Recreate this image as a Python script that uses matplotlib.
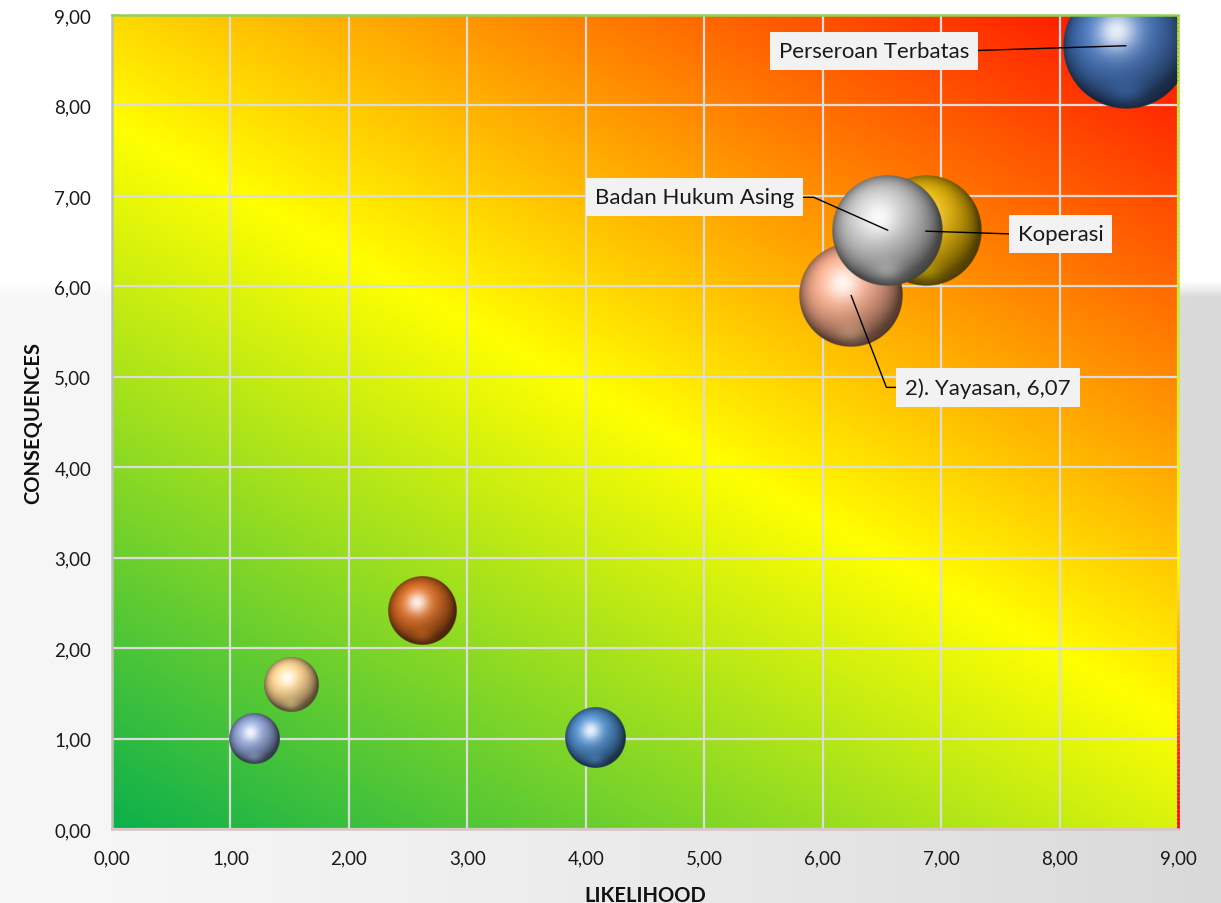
import numpy as np
import matplotlib
matplotlib.use('Agg')
import matplotlib.pyplot as plt
from matplotlib.collections import LineCollection
from matplotlib.colors import to_rgb, LinearSegmentedColormap

# ---------------- data ----------------
labels = ["Perseroan Terbatas", "2). Yayasan, 6,07", "Koperasi", "Badan Hukum Asing", "", "", "", ""]
likelihood = [8.56, 6.24, 6.87, 6.55, 2.62, 1.51, 1.20, 4.08]
consequences = [8.66, 5.90, 6.61, 6.62, 2.41, 1.59, 1.00, 1.01]
bubble_size = [8.9, 6.07, 6.8, 6.9, 2.6, 1.64, 1.45, 2.08]
bubble_colors = ['#416fb5', '#f4a888', '#e6b406', '#c4c4c4', '#d2661e', '#f9d08c', '#8fa2d4', '#4a89c6']

tick_values = [0, 1, 2, 3, 4, 5, 6, 7, 8, 9]
tick_labels = ["0,00", "1,00", "2,00", "3,00", "4,00", "5,00", "6,00", "7,00", "8,00", "9,00"]

x_title = "LIKELIHOOD"
y_title = "CONSEQUENCES"

# label placement (offset in pixels from bubble centre, y up) - style only
label_dx = [-252, 137, 135, -193]
label_dy = [-5, -92, -3, 33]
label_relpos = [(1, 0.5), (0, 0.5), (0, 0.5), (1, 0.5)]
label_conn = ["arc3,rad=0", "angle,angleA=0,angleB=-69,rad=0", "arc3,rad=0", "angle,angleA=0,angleB=156,rad=0"]

plt.rcParams['font.family'] = ['Lato', 'DejaVu Sans']

W, H = 1221, 904
fig = plt.figure(figsize=(W / 100, H / 100), dpi=100)

# ---------------- figure background ----------------
bg_ax = fig.add_axes([0, 0, 1, 1], zorder=-10)
bg_ax.set_axis_off()
yy, xx = np.mgrid[0:H, 0:W]
grey = 0.97 - 0.12 * (xx / W) ** 1.3
edge = np.clip((yy - 282) / 16.0, 0, 1)
lvl = 1.0 * (1 - edge) + grey * edge
bg = np.dstack([lvl, lvl, lvl])
bg_ax.imshow(bg, extent=(0, 1, 0, 1), aspect='auto', interpolation='bilinear')
bg_ax.set_xlim(0, 1)
bg_ax.set_ylim(0, 1)

# ---------------- main axes ----------------
ax = fig.add_axes([112 / W, (H - 830) / H, 1066 / W, 814 / H])
xmin, xmax, ymin, ymax = 0, 9, 0, 9
wpx = 1066.0
hpx = 814.0

# diagonal gradient background
gy, gx = np.mgrid[ymax:ymin:400j, xmin:xmax:400j]
px = (gx - xmin) / (xmax - xmin) * wpx
py = (gy - ymin) / (ymax - ymin) * hpx
slope = 0.56
t = (slope * px + py) / (slope * wpx + hpx)
cmap_bg = LinearSegmentedColormap.from_list(
    'riskbg', [(0.0, '#0cb04c'), (0.5, '#ffff00'), (1.0, '#ff0a00')])
ax.imshow(cmap_bg(t), extent=(xmin, xmax, ymin, ymax), aspect='auto',
          interpolation='bilinear', zorder=0.1)


def sphere_rgba(color, n=300):
    base = np.array(to_rgb(color))
    v, u = np.mgrid[1:-1:n * 1j, -1:1:n * 1j]
    r2 = u ** 2 + v ** 2
    r = np.sqrt(r2)
    z = np.sqrt(np.clip(1 - r2, 0, 1))
    L = np.array([-0.30, 0.45, 0.84]); L = L / np.linalg.norm(L)
    ndl = np.clip(u * L[0] + v * L[1] + z * L[2], 0, 1)
    shade = 0.46 + 0.64 * ndl
    col = base[None, None, :] * shade[..., None]
    # rim darkening
    col *= (1 - 0.32 * np.clip(r2, 0, 1) ** 3)[..., None]
    # bottom reflected light
    refl = np.exp(-((u * 0.7) ** 2 + (v + 0.74) ** 2) / 0.04) * 0.28
    col = col + (np.clip(base * 1.3, 0, 1) - col) * refl[..., None]
    # specular highlight (soft + sharp)
    Hh = L + np.array([0, 0, 1.0]); Hh = Hh / np.linalg.norm(Hh)
    ndh = np.clip(u * Hh[0] + v * Hh[1] + z * Hh[2], 0, 1)
    s = np.clip(ndh ** 20 * 0.72 + ndh ** 6 * 0.16, 0, 1)
    col = col + (1 - col) * s[..., None]
    alpha = np.clip((1 - r) * n / 2.0, 0, 1)
    return np.dstack([np.clip(col, 0, 1), alpha])


k_px = 21.1  # radius in pixels per sqrt(size)
for i, (x, y, s, c) in enumerate(zip(likelihood, consequences, bubble_size, bubble_colors)):
    rpx = k_px * np.sqrt(s)
    rx = rpx / wpx * (xmax - xmin)
    ry = rpx / hpx * (ymax - ymin)
    ax.imshow(sphere_rgba(c), extent=(x - rx, x + rx, y - ry, y + ry),
              aspect='auto', interpolation='bilinear', zorder=3 + i)

for i, lab in enumerate(labels):
    if not lab:
        continue
    ax.annotate(lab, xy=(likelihood[i], consequences[i]),
                xytext=(label_dx[i], label_dy[i]), textcoords='offset pixels',
                ha='center', va='center', fontsize=16, color='#1a1a1a',
                bbox=dict(boxstyle='square,pad=0.40', fc='#f2f2f2', ec='none'),
                arrowprops=dict(arrowstyle='-', color='black', lw=1.0,
                                shrinkA=0, shrinkB=0, relpos=label_relpos[i],
                                connectionstyle=label_conn[i]),
                zorder=30, annotation_clip=False)

ax.set_xlim(xmin, xmax)
ax.set_ylim(ymin, ymax)
ax.set_xticks(tick_values)
ax.set_xticklabels(tick_labels)
ax.set_yticks(tick_values)
ax.set_yticklabels(tick_labels)
ax.tick_params(axis='both', length=0, labelsize=13.5, colors='#1a1a1a')
ax.tick_params(axis='x', pad=15)
ax.tick_params(axis='y', pad=15)
ax.set_axisbelow(True)
ax.grid(True, color='#dcdcdc', lw=1.6)
for gl in ax.get_xgridlines() + ax.get_ygridlines():
    gl.set_zorder(0.5)

ax.set_xlabel(x_title, fontsize=14.5, fontweight='bold', labelpad=13, color='#111111')
ax.set_ylabel(y_title, fontsize=14.5, fontweight='bold', labelpad=8, color='#111111')

ax.spines['top'].set_color('#92d050')
ax.spines['left'].set_color('#bcc0b0')
ax.spines['bottom'].set_color('#d8c4c4')
for sp in ['top', 'left', 'bottom']:
    ax.spines[sp].set_linewidth(1.8)
    ax.spines[sp].set_zorder(20)
ax.spines['right'].set_visible(False)

# right border with gradient
ys = np.linspace(0, 1, 200)
segs = [[(1, ys[j]), (1, ys[j + 1])] for j in range(len(ys) - 1)]
cmap_edge = LinearSegmentedColormap.from_list(
    'edge', [(0.0, '#ff0000'), (0.09, '#ff2000'), (0.17, '#ff8000'),
             (0.33, '#ffff00'), (0.55, '#d2ec28'), (1.0, '#b4dc3c')])
lc = LineCollection(segs, colors=cmap_edge(ys[:-1]), linewidths=2.0,
                    transform=ax.transAxes, zorder=20, clip_on=False)
ax.add_collection(lc)

fig.savefig('out.png', dpi=100)
